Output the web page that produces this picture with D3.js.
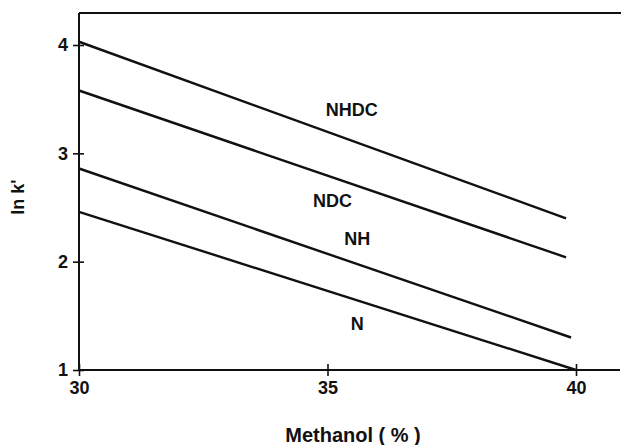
<!DOCTYPE html>
<html>
<head>
<meta charset="utf-8">
<script src="https://cdn.jsdelivr.net/npm/d3@7"></script>
<style>
  body { margin: 0; background: #fff; }
  text { font-family: "Liberation Sans", Arial, sans-serif; font-weight: bold; fill: #111; }
</style>
</head>
<body>
<svg id="chart" width="622" height="445"></svg>
<script>
// methanol (%) values at each line end
var methanol = [30, 39.85]
var seriesNames = ["NHDC", "NDC", "NH", "N"]
var nhdc = [4.03, 2.40]
var ndc = [3.58, 2.04]
var nh = [2.86, 1.30]
var n = [2.46, 1.00]
var seriesEnds = [39.8, 39.8, 39.9, 40]
var xTicks = [30, 35, 40]
var yTicks = [1, 2, 3, 4]
// label anchor positions in data units
var labelX = [35.49, 35.1, 35.6, 35.6]
var labelY = [3.40, 2.56, 2.21, 1.43]

var margin = {left: 79, right: 2, top: 13, bottom: 75}
var screen = {width: 622, height: 445}
var graph = {
    width: screen.width - margin.left - margin.right,
    height: screen.height - margin.top - margin.bottom
}

var svg = d3.select("#chart")

var xScale = d3.scaleLinear()
    .domain([30, 40])
    .range([0, 497])
var yScale = d3.scaleLinear()
    .domain([1, 4])
    .range([graph.height, graph.height - 325])

var target = svg.append("g")
    .attr("transform", "translate(" + margin.left + "," + margin.top + ")")

// frame: top border, left axis, bottom axis
target.append("line")
    .attr("x1", 0).attr("x2", graph.width + 1)
    .attr("y1", 0).attr("y2", 0)
    .attr("stroke", "#111").attr("stroke-width", 2)

var xAxis = d3.axisBottom(xScale)
    .tickValues(xTicks)
    .tickFormat(d3.format("d"))
    .tickSizeInner(6)
    .tickSizeOuter(0)
    .tickPadding(5)
var gx = target.append("g")
    .attr("transform", "translate(0," + graph.height + ")")
    .call(xAxis)
gx.select(".domain").remove()
gx.append("line")
    .attr("x1", 0).attr("x2", graph.width)
    .attr("stroke", "#111").attr("stroke-width", 2)
gx.selectAll(".tick line")
    .attr("y1", -6).attr("y2", 6)
    .attr("stroke", "#111").attr("stroke-width", 1.6)
gx.selectAll(".tick text")
    .style("font-size", "18px").style("font-family", "Liberation Sans, Arial, sans-serif")
    .style("font-weight", "bold").attr("fill", "#111")

var yAxis = d3.axisLeft(yScale)
    .tickValues(yTicks)
    .tickFormat(d3.format("d"))
    .tickSizeInner(6)
    .tickSizeOuter(0)
    .tickPadding(5)
var gy = target.append("g").call(yAxis)
gy.select(".domain").remove()
gy.append("line")
    .attr("y1", 0).attr("y2", graph.height)
    .attr("stroke", "#111").attr("stroke-width", 2)
gy.selectAll(".tick line")
    .attr("x1", -6).attr("x2", 5)
    .attr("stroke", "#111").attr("stroke-width", 1.6)
gy.selectAll(".tick text")
    .style("font-size", "18px").style("font-family", "Liberation Sans, Arial, sans-serif")
    .style("font-weight", "bold").attr("fill", "#111")

// the four regression lines
var seriesValues = [nhdc, ndc, nh, n]
var line = d3.line()
    .x(function(d) { return xScale(d[0]) })
    .y(function(d) { return yScale(d[1]) })

target.selectAll("path.series")
    .data(seriesValues)
    .enter()
    .append("path")
      .attr("class", "series")
      .attr("fill", "none")
      .attr("stroke", "#111")
      .attr("stroke-width", 2.4)
      .attr("d", function(d, i) {
          return line([[methanol[0], d[0]], [seriesEnds[i], d[1]]])
      })

target.selectAll("text.label")
    .data(seriesNames)
    .enter()
    .append("text")
      .attr("class", "label")
      .attr("x", function(d, i) { return xScale(labelX[i]) })
      .attr("y", function(d, i) { return yScale(labelY[i]) })
      .attr("dy", "0.35em")
      .attr("text-anchor", "middle")
      .style("font-size", "18px")
      .text(function(d) { return d })

// axis titles
svg.append("text")
    .attr("transform", "translate(18,197) rotate(-90)")
    .attr("text-anchor", "middle")
    .attr("dy", "0.35em")
    .style("font-size", "18px")
    .text("ln k'")

svg.append("text")
    .attr("x", 353)
    .attr("y", 435)
    .attr("dy", "0.35em")
    .attr("text-anchor", "middle")
    .style("font-size", "20px")
    .text("Methanol ( % )")
</script>
</body>
</html>
